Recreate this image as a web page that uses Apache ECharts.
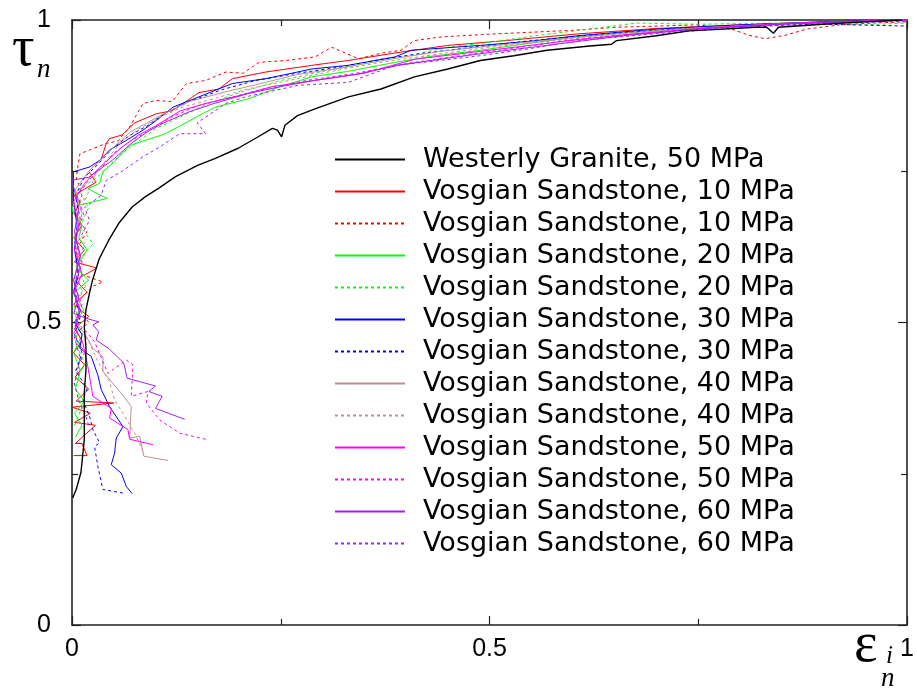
<!DOCTYPE html>
<html>
<head>
<meta charset="utf-8">
<script src="https://cdn.jsdelivr.net/npm/echarts@6/dist/echarts.min.js"></script>
<style>html,body{margin:0;padding:0;background:#fff}#c{width:917px;height:694px}</style>
</head>
<body>
<div id="c"></div>
<script>
// Tick labels
const xTicks = [0, 0.5, 1];
const yTicks = [0, 0.5, 1];

// Series names (legend order)
const names = [
  "Westerly Granite, 50 MPa",
  "Vosgian Sandstone, 10 MPa", "Vosgian Sandstone, 10 MPa",
  "Vosgian Sandstone, 20 MPa", "Vosgian Sandstone, 20 MPa",
  "Vosgian Sandstone, 30 MPa", "Vosgian Sandstone, 30 MPa",
  "Vosgian Sandstone, 40 MPa", "Vosgian Sandstone, 40 MPa",
  "Vosgian Sandstone, 50 MPa", "Vosgian Sandstone, 50 MPa",
  "Vosgian Sandstone, 60 MPa", "Vosgian Sandstone, 60 MPa"
];

// [epsilon_in, tau_n] pairs
const granite50 = [[0.0008,0.21],[0.005,0.224],[0.0107,0.252],[0.0127,0.279],[0.0147,0.306],[0.0147,0.345],[0.0147,0.384],[0.0167,0.422],[0.0167,0.46],[0.0147,0.493],[0.0167,0.521],[0.021,0.549],[0.0246,0.57],[0.0325,0.605],[0.044,0.636],[0.056,0.664],[0.072,0.691],[0.088,0.708],[0.104,0.722],[0.124,0.741],[0.151,0.76],[0.171,0.771],[0.199,0.788],[0.223,0.807],[0.240,0.821],[0.246,0.818],[0.251,0.807],[0.255,0.826],[0.270,0.842],[0.291,0.853],[0.331,0.873],[0.370,0.886],[0.410,0.906],[0.450,0.919],[0.489,0.933],[0.529,0.941],[0.569,0.950],[0.605,0.955],[0.620,0.957],[0.646,0.960],[0.652,0.966],[0.70,0.974],[0.739,0.982],[0.780,0.985],[0.819,0.988],[0.832,0.988],[0.840,0.978],[0.846,0.988],[0.899,0.993],[0.938,0.996],[0.994,1.0]];

const vs10a = [[0.002,0.28],[0.018,0.28],[0.012,0.30],[0.004,0.30],[0.028,0.33],[0.003,0.335],[0.022,0.35],[0.0,0.36],[0.05,0.367],[0.005,0.37],[0.02,0.39],[0.004,0.41],[0.015,0.43],[0.002,0.45],[0.012,0.47],[0.003,0.49],[0.02,0.51],[0.002,0.53],[0.018,0.55],[0.004,0.57],[0.03,0.59],[0.003,0.6],[0.015,0.62],[0.002,0.64],[0.012,0.66],[0.003,0.68],[0.01,0.70],[0.002,0.71],[0.029,0.732],[0.02,0.75],[0.035,0.77],[0.041,0.796],[0.045,0.804],[0.06,0.81],[0.075,0.83],[0.101,0.845],[0.12,0.85],[0.152,0.88],[0.176,0.886],[0.192,0.903],[0.232,0.914],[0.287,0.925],[0.33,0.933],[0.394,0.947],[0.45,0.958],[0.52,0.966],[0.605,0.977],[0.7,0.986],[0.8,0.992],[0.9,0.997],[1,1]];

const vs10b = [[0.004,0.42],[0.015,0.45],[0.003,0.48],[0.02,0.5],[0.004,0.53],[0.025,0.56],[0.037,0.567],[0.01,0.58],[0.005,0.62],[0.018,0.65],[0.003,0.68],[0.012,0.71],[0.005,0.74],[0.0095,0.779],[0.021,0.785],[0.041,0.796],[0.055,0.80],[0.069,0.823],[0.085,0.862],[0.101,0.867],[0.12,0.865],[0.137,0.895],[0.16,0.90],[0.184,0.914],[0.205,0.912],[0.224,0.930],[0.256,0.933],[0.291,0.939],[0.311,0.955],[0.343,0.936],[0.37,0.945],[0.394,0.950],[0.41,0.966],[0.442,0.972],[0.506,0.977],[0.6,0.983],[0.652,0.988],[0.75,0.992],[0.79,0.985],[0.81,0.975],[0.83,0.969],[0.855,0.975],[0.88,0.985],[0.92,0.992],[0.96,0.995],[1,0.997]];

const vs20a = [[0.004,0.31],[0.012,0.33],[0.003,0.35],[0.015,0.37],[0.004,0.39],[0.01,0.42],[0.002,0.45],[0.012,0.48],[0.004,0.5],[0.014,0.52],[0.003,0.55],[0.02,0.57],[0.005,0.59],[0.018,0.62],[0.008,0.64],[0.012,0.66],[0.002,0.68],[0.0,0.691],[0.042,0.705],[0.019,0.721],[0.033,0.73],[0.037,0.749],[0.05,0.765],[0.064,0.785],[0.07,0.793],[0.112,0.812],[0.152,0.842],[0.172,0.856],[0.212,0.87],[0.25,0.89],[0.287,0.906],[0.33,0.915],[0.387,0.93],[0.43,0.94],[0.489,0.95],[0.55,0.962],[0.605,0.972],[0.7,0.983],[0.8,0.991],[0.9,0.996],[1,1]];

const vs20b = [[0.003,0.33],[0.012,0.36],[0.002,0.4],[0.015,0.43],[0.004,0.47],[0.01,0.5],[0.002,0.53],[0.016,0.56],[0.006,0.6],[0.025,0.63],[0.01,0.66],[0.02,0.69],[0.008,0.72],[0.03,0.74],[0.045,0.76],[0.06,0.78],[0.08,0.80],[0.1,0.82],[0.13,0.84],[0.16,0.86],[0.2,0.88],[0.25,0.90],[0.3,0.915],[0.35,0.928],[0.4,0.94],[0.45,0.955],[0.5,0.963],[0.56,0.975],[0.62,0.985],[0.676,0.995],[0.75,0.993],[0.85,0.995],[0.95,0.992],[1,0.995]];

const vs30a = [[0.072,0.217],[0.065,0.229],[0.059,0.251],[0.047,0.265],[0.051,0.284],[0.053,0.309],[0.061,0.328],[0.045,0.361],[0.035,0.389],[0.031,0.413],[0.023,0.444],[0.0095,0.457],[0.012,0.48],[0.003,0.5],[0.01,0.52],[0.002,0.55],[0.008,0.58],[0.003,0.62],[0.006,0.66],[0.002,0.7],[0.0016,0.749],[0.021,0.757],[0.033,0.768],[0.045,0.785],[0.065,0.801],[0.085,0.818],[0.101,0.834],[0.121,0.856],[0.152,0.873],[0.192,0.895],[0.232,0.903],[0.287,0.919],[0.33,0.925],[0.387,0.939],[0.406,0.950],[0.489,0.958],[0.55,0.965],[0.605,0.974],[0.7,0.985],[0.8,0.992],[0.9,0.997],[1,1]];

const vs30b = [[0.061,0.218],[0.037,0.224],[0.031,0.262],[0.027,0.295],[0.033,0.301],[0.025,0.323],[0.021,0.345],[0.013,0.372],[0.018,0.39],[0.005,0.42],[0.012,0.45],[0.003,0.48],[0.01,0.51],[0.002,0.55],[0.007,0.59],[0.003,0.63],[0.01,0.67],[0.004,0.71],[0.015,0.74],[0.03,0.76],[0.05,0.79],[0.07,0.81],[0.09,0.825],[0.11,0.845],[0.14,0.865],[0.18,0.885],[0.22,0.9],[0.27,0.912],[0.32,0.922],[0.37,0.935],[0.42,0.945],[0.48,0.955],[0.55,0.966],[0.62,0.975],[0.7,0.983],[0.8,0.99],[0.9,0.993],[1,0.99]];

const vs40a = [[0.115,0.272],[0.086,0.279],[0.081,0.312],[0.069,0.309],[0.071,0.361],[0.059,0.383],[0.037,0.419],[0.037,0.444],[0.025,0.457],[0.015,0.482],[0.004,0.5],[0.01,0.53],[0.002,0.57],[0.008,0.6],[0.003,0.64],[0.012,0.68],[0.004,0.72],[0.02,0.75],[0.035,0.77],[0.05,0.79],[0.07,0.815],[0.09,0.83],[0.11,0.845],[0.14,0.865],[0.18,0.88],[0.22,0.893],[0.27,0.91],[0.32,0.92],[0.38,0.935],[0.44,0.948],[0.5,0.957],[0.58,0.968],[0.66,0.978],[0.75,0.987],[0.85,0.994],[1,1]];

const vs40b = [[0.085,0.287],[0.075,0.317],[0.061,0.35],[0.051,0.372],[0.045,0.402],[0.033,0.43],[0.021,0.466],[0.008,0.49],[0.003,0.52],[0.012,0.55],[0.004,0.59],[0.015,0.63],[0.005,0.67],[0.018,0.71],[0.03,0.75],[0.045,0.775],[0.06,0.8],[0.08,0.82],[0.1,0.835],[0.13,0.855],[0.17,0.87],[0.21,0.886],[0.26,0.9],[0.31,0.915],[0.37,0.93],[0.43,0.942],[0.5,0.955],[0.58,0.966],[0.66,0.976],[0.75,0.985],[0.85,0.993],[1,1]];

const vs50a = [[0.097,0.298],[0.069,0.307],[0.067,0.323],[0.045,0.342],[0.047,0.358],[0.025,0.378],[0.019,0.427],[0.013,0.466],[0.004,0.49],[0.01,0.52],[0.002,0.55],[0.012,0.58],[0.003,0.62],[0.008,0.66],[0.002,0.7],[0.015,0.73],[0.025,0.745],[0.04,0.765],[0.06,0.79],[0.08,0.81],[0.1,0.825],[0.13,0.85],[0.16,0.862],[0.2,0.875],[0.24,0.89],[0.29,0.9],[0.35,0.912],[0.41,0.935],[0.47,0.945],[0.53,0.955],[0.6,0.967],[0.68,0.978],[0.77,0.988],[0.87,0.995],[1,1]];

const vs50b = [[0.160,0.307],[0.129,0.317],[0.105,0.339],[0.089,0.367],[0.091,0.386],[0.071,0.378],[0.073,0.430],[0.065,0.438],[0.043,0.416],[0.027,0.468],[0.019,0.482],[0.006,0.5],[0.012,0.53],[0.003,0.56],[0.01,0.6],[0.004,0.64],[0.014,0.68],[0.006,0.71],[0.02,0.735],[0.035,0.755],[0.05,0.78],[0.07,0.8],[0.09,0.815],[0.12,0.84],[0.15,0.858],[0.19,0.872],[0.23,0.886],[0.28,0.9],[0.34,0.912],[0.4,0.928],[0.46,0.94],[0.52,0.952],[0.59,0.965],[0.67,0.976],[0.76,0.986],[0.86,0.994],[1,1]];

const vs60a = [[0.135,0.340],[0.1,0.358],[0.108,0.378],[0.092,0.386],[0.1,0.395],[0.066,0.408],[0.062,0.433],[0.044,0.457],[0.029,0.471],[0.032,0.485],[0.025,0.496],[0.032,0.501],[0.017,0.507],[0.002,0.515],[0.008,0.54],[0.002,0.57],[0.01,0.61],[0.003,0.65],[0.008,0.69],[0.0,0.735],[0.02,0.74],[0.035,0.755],[0.05,0.77],[0.07,0.795],[0.09,0.815],[0.11,0.83],[0.14,0.848],[0.17,0.862],[0.21,0.878],[0.25,0.89],[0.29,0.9],[0.34,0.91],[0.39,0.925],[0.45,0.937],[0.51,0.948],[0.58,0.96],[0.66,0.974],[0.75,0.985],[0.85,0.993],[1,1]];

const vs60b = [[0.02,0.33],[0.015,0.351],[0.008,0.37],[0.003,0.4],[0.01,0.44],[0.002,0.48],[0.008,0.52],[0.003,0.56],[0.012,0.6],[0.006,0.63],[0.021,0.669],[0.015,0.69],[0.035,0.71],[0.041,0.735],[0.06,0.75],[0.085,0.774],[0.105,0.790],[0.129,0.812],[0.16,0.812],[0.15,0.83],[0.184,0.862],[0.208,0.873],[0.271,0.892],[0.331,0.897],[0.387,0.925],[0.44,0.933],[0.489,0.941],[0.55,0.953],[0.605,0.966],[0.68,0.975],[0.76,0.984],[0.85,0.991],[0.93,0.995],[1,0.998]];

const datasets = [granite50, vs10a, vs10b, vs20a, vs20b, vs30a, vs30b, vs40a, vs40b, vs50a, vs50b, vs60a, vs60b];
const colors = ['#000000','#ff0000','#ff0000','#00ff00','#00ff00','#0000ff','#0000ff','#bc8f8f','#bc8f8f','#ff00ff','#ff00ff','#a020f0','#a020f0'];
const dashed = [false,false,true,false,true,false,true,false,true,false,true,false,true];

// Unique legend keys (zero-width space keeps duplicate labels distinct)
const keys = names.map((n, i) => dashed[i] ? n + '\u200b' : n);

const chart = echarts.init(document.getElementById('c'), null, {renderer: 'canvas'});

const series = datasets.map((d, i) => ({
  name: keys[i],
  type: 'line',
  data: d,
  symbol: 'none',
  showSymbol: false,
  clip: true,
  z: i === 0 ? 3 : 2,
  lineStyle: {
    color: colors[i],
    width: i === 0 ? 1.4 : 1,
    type: dashed[i] ? [3, 3] : 'solid'
  },
  itemStyle: {color: colors[i]}
}));

function mkAxis(pos, showLabel, extraLabel) {
  return {
    type: 'value', min: 0, max: 1, interval: 0.5, position: pos,
    axisLine: {show: true, onZero: false, lineStyle: {color: '#222', width: 1.6}},
    axisTick: {show: true, inside: false, length: -9, lineStyle: {color: '#222', width: 1.2}},
    minorTick: {show: true, splitNumber: 2, length: -6, lineStyle: {color: '#222', width: 1.2}},
    splitLine: {show: false},
    minorSplitLine: {show: false},
    axisLabel: Object.assign({show: showLabel, color: '#000', fontFamily: 'Liberation Sans', fontSize: 25}, extraLabel || {})
  };
}

chart.setOption({
  animation: false,
  backgroundColor: '#ffffff',
  grid: {left: 72, right: 9, top: 20, bottom: 69, containLabel: false},
  xAxis: [
    mkAxis('bottom', true, {margin: 12, formatter: v => xTicks.includes(v) ? String(v) : ''}),
    mkAxis('top', false)
  ],
  yAxis: [
    mkAxis('left', true, {margin: 28, align: 'center', formatter: v => yTicks.includes(v) ? String(v) : ''}),
    mkAxis('right', false)
  ],
  legend: {
    show: true,
    orient: 'vertical',
    left: 334,
    top: 146,
    padding: 0,
    itemWidth: 70,
    itemHeight: 14,
    itemGap: 5,
    data: keys,
    selectedMode: false,
    itemStyle: {color: 'rgba(0,0,0,0)', borderWidth: 0, borderColor: 'rgba(0,0,0,0)'},
    textStyle: {color: '#000', fontFamily: 'DejaVu Sans', fontSize: 27, lineHeight: 26, padding: [0, 0, 0, 13]}
  },
  graphic: [
    {type: 'text', left: 12, top: 22, style: {text: 'τ', font: '56px "Liberation Serif"', fill: '#000'}},
    {type: 'text', left: 37, top: 56, style: {text: 'n', font: 'italic 27px "Liberation Serif"', fill: '#000'}},
    {type: 'text', left: 854, top: 618, style: {text: 'ε', font: '56px "Liberation Serif"', fill: '#000'}},
    {type: 'text', left: 886, top: 644, style: {text: 'i', font: 'italic 25px "Liberation Serif"', fill: '#000'}},
    {type: 'text', left: 881, top: 665, style: {text: 'n', font: 'italic 27px "Liberation Serif"', fill: '#000'}}
  ],
  series: series
});
</script>
</body>
</html>
